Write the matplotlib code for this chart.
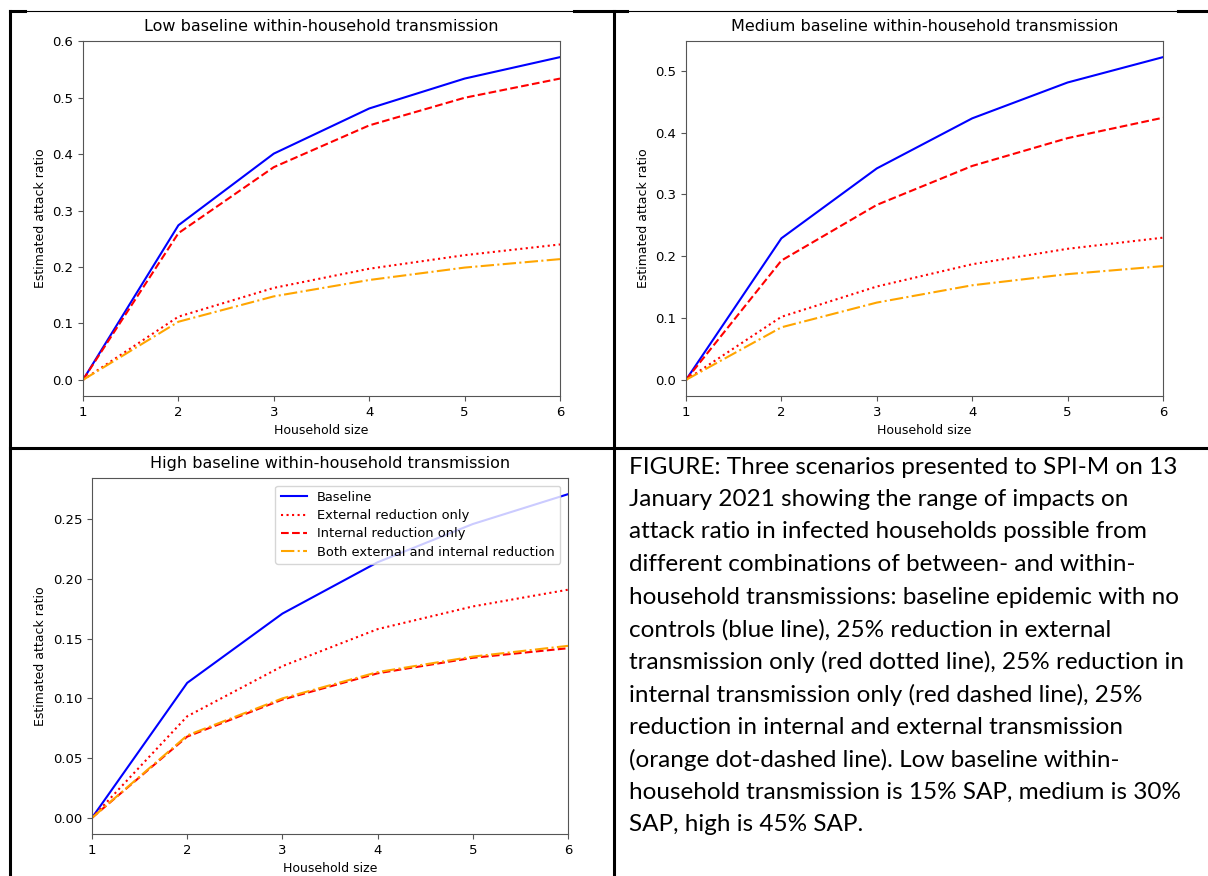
import matplotlib
matplotlib.use("Agg")
import matplotlib.pyplot as plt
from matplotlib.lines import Line2D

W, H = 1208, 876

household_size = [1, 2, 3, 4, 5, 6]
series_labels = ['Baseline', 'External reduction only',
                 'Internal reduction only', 'Both external and internal reduction']

# low baseline within-household transmission
low_baseline = [0, 0.274, 0.401, 0.481, 0.534, 0.572]
low_external = [0, 0.112, 0.163, 0.197, 0.221, 0.240]
low_internal = [0, 0.260, 0.377, 0.451, 0.500, 0.534]
low_both = [0, 0.103, 0.148, 0.177, 0.199, 0.214]

# medium
med_baseline = [0, 0.229, 0.342, 0.423, 0.481, 0.522]
med_external = [0, 0.102, 0.151, 0.187, 0.212, 0.230]
med_internal = [0, 0.193, 0.283, 0.346, 0.391, 0.424]
med_both = [0, 0.085, 0.125, 0.153, 0.171, 0.184]

# high
high_baseline = [0, 0.113, 0.171, 0.214, 0.246, 0.271]
high_external = [0, 0.085, 0.127, 0.158, 0.177, 0.191]
high_internal = [0, 0.068, 0.099, 0.121, 0.134, 0.142]
high_both = [0, 0.069, 0.100, 0.122, 0.135, 0.144]

caption_lines = [
    "FIGURE: Three scenarios presented to SPI-M on 13",
    "January 2021 showing the range of impacts on",
    "attack ratio in infected households possible from",
    "different combinations of between- and within-",
    "household transmissions: baseline epidemic with no",
    "controls (blue line), 25% reduction in external",
    "transmission only (red dotted line), 25% reduction in",
    "internal transmission only (red dashed line), 25%",
    "reduction in internal and external transmission",
    "(orange dot-dashed line). Low baseline within-",
    "household transmission is 15% SAP, medium is 30%",
    "SAP, high is 45% SAP.",
]

colors = ['blue', 'red', 'red', 'orange']
styles = ['-', ':', '--', '-.']


def box(left, right, top, bottom):
    return [left / W, 1 - bottom / H, (right - left) / W, (bottom - top) / H]


def draw_panel(ax, title, series, yticks, fmt, legend=False):
    for vals, c, ls, lab in zip(series, colors, styles, series_labels):
        ax.plot(household_size, vals, color=c, linestyle=ls, linewidth=1.5, label=lab)
    ax.set_xlim(1, 6)
    top = max(series[0])
    ax.set_ylim(-0.05 * top, 1.05 * top)
    ax.set_yticks(yticks)
    ax.set_yticklabels([fmt.format(v) for v in yticks])
    ax.set_title(title, fontsize=11.5, pad=7)
    ax.set_xlabel('Household size', fontsize=9)
    ax.set_ylabel('Estimated attack ratio', fontsize=9)
    ax.tick_params(labelsize=9.5, color='#555555')
    for s in ax.spines.values():
        s.set_color('#555555')
    if legend:
        ax.legend(loc='upper right', fontsize=9.4, labelspacing=0.4,
                  borderaxespad=0.6)


fig = plt.figure(figsize=(W / 100, H / 100), dpi=100)

ax1 = fig.add_axes(box(83, 560, 41, 396))
draw_panel(ax1, 'Low baseline within-household transmission',
           [low_baseline, low_external, low_internal, low_both],
           [0, 0.1, 0.2, 0.3, 0.4, 0.5, 0.6], '{:.1f}')

ax2 = fig.add_axes(box(686, 1163, 41, 396))
draw_panel(ax2, 'Medium baseline within-household transmission',
           [med_baseline, med_external, med_internal, med_both],
           [0, 0.1, 0.2, 0.3, 0.4, 0.5], '{:.1f}')

ax3 = fig.add_axes(box(92, 568, 478, 834))
draw_panel(ax3, 'High baseline within-household transmission',
           [high_baseline, high_external, high_internal, high_both],
           [0, 0.05, 0.1, 0.15, 0.2, 0.25], '{:.2f}', legend=True)

# table borders of the original document
border = dict(color='black', linewidth=2.2, transform=fig.transFigure)
top_y = 1 - 11 / H
fig.add_artist(Line2D([10 / W, 10 / W], [0, top_y], **border))
fig.add_artist(Line2D([614 / W, 614 / W], [0, top_y], **border))
fig.add_artist(Line2D([10 / W, 1], [top_y, top_y], color='black',
                      linewidth=0.8, transform=fig.transFigure))
for x0, x1 in [(10, 25), (574, 627), (1178, 1208)]:
    fig.add_artist(Line2D([x0 / W, x1 / W], [top_y, top_y], **border))
fig.add_artist(Line2D([10 / W, 1], [1 - 448 / H, 1 - 448 / H], **border))

# caption in the bottom right cell
for i, line in enumerate(caption_lines):
    fig.text(629 / W, 1 - (467 + i * 32.5) / H, line, fontsize=17.5,
             family='Lato', va='center', ha='left', color='black')

fig.savefig('out.png', dpi=100)
